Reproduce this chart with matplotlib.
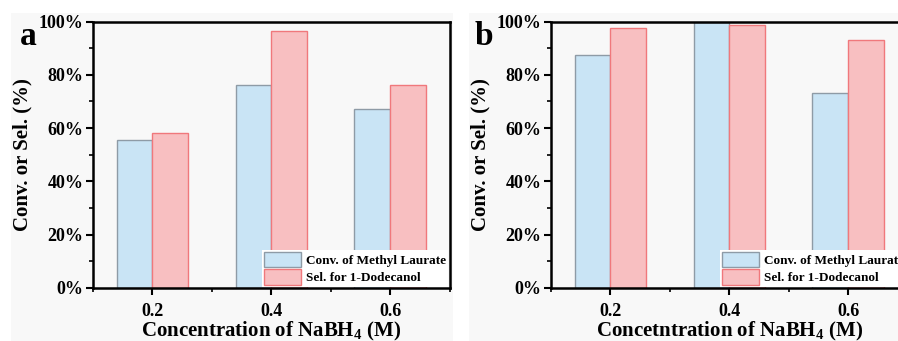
import matplotlib
matplotlib.use("Agg")
import matplotlib.pyplot as plt
from matplotlib.patches import Rectangle
from matplotlib.ticker import FuncFormatter, MultipleLocator
import numpy as np

plt.rcParams['font.family'] = ['Liberation Serif', 'DejaVu Serif']
plt.rcParams['font.weight'] = 'bold'
plt.rcParams['mathtext.fontset'] = 'custom'
plt.rcParams['mathtext.rm'] = 'Liberation Serif:bold'
plt.rcParams['mathtext.it'] = 'Liberation Serif:bold'
plt.rcParams['mathtext.bf'] = 'Liberation Serif:bold'

concentrations = [0.2, 0.4, 0.6]
conv_a = [55.5, 76.0, 67.0]
sel_a = [58.0, 96.3, 76.0]
conv_b = [87.4, 100.0, 73.0]
sel_b = [97.7, 98.7, 93.2]
series_labels = ["Conv. of Methyl Laurate", "Sel. for 1-Dodecanol"]
xlabels = ["Concentration of NaBH$_4$ (M)", "Concetntration of NaBH$_4$ (M)"]
panel_letters = ["a", "b"]

W, H = 898, 341
fig = plt.figure(figsize=(W / 100, H / 100), dpi=100)
fig.patch.set_facecolor("white")

# light gray panel backgrounds
fig.add_artist(Rectangle((11 / W, 0), (453 - 11) / W, 1 - 13 / H, transform=fig.transFigure,
                         facecolor="#f8f8f8", edgecolor="none", zorder=-10))
fig.add_artist(Rectangle((469 / W, 0), (898 - 469) / W, 1 - 13 / H, transform=fig.transFigure,
                         facecolor="#f8f8f8", edgecolor="none", zorder=-10))

blue_fc, blue_ec = "#c9e4f5", "#8e9ba6"
red_fc, red_ec = "#f8bfc1", "#f0787c"

def make_panel(left_px, conv, sel, xlabel, letter, letter_x):
    right_px = left_px + 356.5
    bottom_px, top_px = 288, 21.5
    ax = fig.add_axes([left_px / W, 1 - bottom_px / H, (right_px - left_px) / W, (bottom_px - top_px) / H])
    ax.set_facecolor("#f8f8f8")
    x = np.array(concentrations)
    w = 0.06
    ax.bar(x - w / 2, conv, width=w, color=blue_fc, edgecolor=blue_ec, linewidth=1.0, label=series_labels[0])
    ax.bar(x + w / 2, sel, width=w, color=red_fc, edgecolor=red_ec, linewidth=1.0, label=series_labels[1])
    ax.set_xlim(0.1, 0.7)
    ax.set_ylim(0, 100)
    ax.set_xticks(concentrations)
    ax.set_xticklabels([f"{c:.1f}" for c in concentrations])
    ax.xaxis.set_minor_locator(MultipleLocator(0.1))
    ax.yaxis.set_major_locator(MultipleLocator(20))
    ax.yaxis.set_minor_locator(MultipleLocator(10))
    ax.yaxis.set_major_formatter(FuncFormatter(lambda v, p: f"{int(v)}%"))
    ax.tick_params(which="major", direction="out", length=5, width=1.5, labelsize=13, pad=2)
    ax.tick_params(which="minor", direction="out", length=3, width=1.2)
    ax.tick_params(axis="x", which="major", pad=6)
    for s in ax.spines.values():
        s.set_linewidth(1.8)
    for lab in ax.get_xticklabels() + ax.get_yticklabels():
        lab.set_fontweight("bold")
    ax.set_xlabel(xlabel, fontsize=15, fontweight="bold", labelpad=0)
    ax.set_ylabel("Conv. or Sel. (%)", fontsize=15, fontweight="bold", labelpad=4)
    ax.legend(loc="lower right", bbox_to_anchor=(1.0, 0.0), frameon=True, fancybox=False,
              edgecolor="none", facecolor="white", framealpha=1,
              handlelength=2.8, handleheight=1.4, handletextpad=0.4, borderpad=0.15,
              labelspacing=0.15, borderaxespad=0.1, prop={"weight": "bold", "size": 9.5})
    fig.text(letter_x / W, 1 - 45 / H, letter, fontsize=24, fontweight="bold", ha="left", va="baseline")
    return ax

make_panel(93, conv_a, sel_a, xlabels[0], panel_letters[0], 20)
make_panel(551, conv_b, sel_b, xlabels[1], panel_letters[1], 475)

fig.savefig("out.png", dpi=100)
